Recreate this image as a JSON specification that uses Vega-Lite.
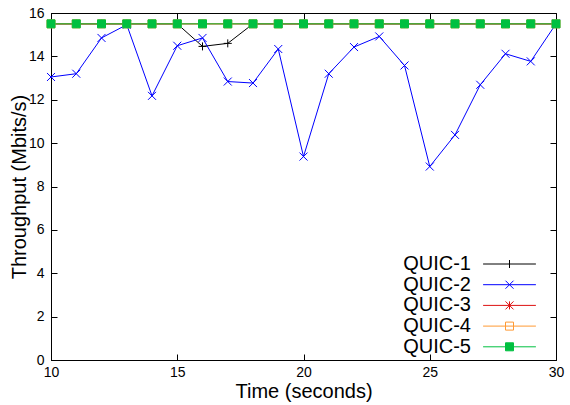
{
  "$schema": "https://vega.github.io/schema/vega-lite/v6.json",
  "width": 505,
  "height": 347,
  "autosize": {"type": "none"},
  "padding": {"left": 51, "top": 13, "right": 14, "bottom": 45},
  "background": "white",
  "config": {
    "font": "Liberation Sans",
    "view": {"stroke": "black", "strokeWidth": 1},
    "axis": {
      "grid": false,
      "domainColor": "black",
      "domainWidth": 1,
      "tickColor": "black",
      "tickWidth": 1,
      "labelColor": "black",
      "labelFont": "Liberation Sans",
      "labelFontSize": 14,
      "titleFont": "Liberation Sans",
      "titleFontSize": 20,
      "titleFontWeight": "normal",
      "titleColor": "black",
      "labelFlush": false,
      "labelOverlap": false
    }
  },
  "data": {
    "values": [
      {"t": 10, "series": "QUIC-1", "v": 15.5}, {"t": 11, "series": "QUIC-1", "v": 15.5}, {"t": 12, "series": "QUIC-1", "v": 15.5}, {"t": 13, "series": "QUIC-1", "v": 15.5}, {"t": 14, "series": "QUIC-1", "v": 15.5}, {"t": 15, "series": "QUIC-1", "v": 15.5}, {"t": 16, "series": "QUIC-1", "v": 14.46}, {"t": 17, "series": "QUIC-1", "v": 14.6}, {"t": 18, "series": "QUIC-1", "v": 15.5}, {"t": 19, "series": "QUIC-1", "v": 15.5}, {"t": 20, "series": "QUIC-1", "v": 15.5}, {"t": 21, "series": "QUIC-1", "v": 15.5}, {"t": 22, "series": "QUIC-1", "v": 15.5}, {"t": 23, "series": "QUIC-1", "v": 15.5}, {"t": 24, "series": "QUIC-1", "v": 15.5}, {"t": 25, "series": "QUIC-1", "v": 15.5}, {"t": 26, "series": "QUIC-1", "v": 15.5}, {"t": 27, "series": "QUIC-1", "v": 15.5}, {"t": 28, "series": "QUIC-1", "v": 15.5}, {"t": 29, "series": "QUIC-1", "v": 15.5}, {"t": 30, "series": "QUIC-1", "v": 15.5},
      {"t": 10, "series": "QUIC-2", "v": 13.05}, {"t": 11, "series": "QUIC-2", "v": 13.2}, {"t": 12, "series": "QUIC-2", "v": 14.85}, {"t": 13, "series": "QUIC-2", "v": 15.46}, {"t": 14, "series": "QUIC-2", "v": 12.18}, {"t": 15, "series": "QUIC-2", "v": 14.49}, {"t": 16, "series": "QUIC-2", "v": 14.85}, {"t": 17, "series": "QUIC-2", "v": 12.84}, {"t": 18, "series": "QUIC-2", "v": 12.77}, {"t": 19, "series": "QUIC-2", "v": 14.34}, {"t": 20, "series": "QUIC-2", "v": 9.38}, {"t": 21, "series": "QUIC-2", "v": 13.2}, {"t": 22, "series": "QUIC-2", "v": 14.43}, {"t": 23, "series": "QUIC-2", "v": 14.92}, {"t": 24, "series": "QUIC-2", "v": 13.58}, {"t": 25, "series": "QUIC-2", "v": 8.92}, {"t": 26, "series": "QUIC-2", "v": 10.38}, {"t": 27, "series": "QUIC-2", "v": 12.69}, {"t": 28, "series": "QUIC-2", "v": 14.12}, {"t": 29, "series": "QUIC-2", "v": 13.77}, {"t": 30, "series": "QUIC-2", "v": 15.5},
      {"t": 10, "series": "QUIC-3", "v": 15.5}, {"t": 11, "series": "QUIC-3", "v": 15.5}, {"t": 12, "series": "QUIC-3", "v": 15.5}, {"t": 13, "series": "QUIC-3", "v": 15.5}, {"t": 14, "series": "QUIC-3", "v": 15.5}, {"t": 15, "series": "QUIC-3", "v": 15.5}, {"t": 16, "series": "QUIC-3", "v": 15.5}, {"t": 17, "series": "QUIC-3", "v": 15.5}, {"t": 18, "series": "QUIC-3", "v": 15.5}, {"t": 19, "series": "QUIC-3", "v": 15.5}, {"t": 20, "series": "QUIC-3", "v": 15.5}, {"t": 21, "series": "QUIC-3", "v": 15.5}, {"t": 22, "series": "QUIC-3", "v": 15.5}, {"t": 23, "series": "QUIC-3", "v": 15.5}, {"t": 24, "series": "QUIC-3", "v": 15.5}, {"t": 25, "series": "QUIC-3", "v": 15.5}, {"t": 26, "series": "QUIC-3", "v": 15.5}, {"t": 27, "series": "QUIC-3", "v": 15.5}, {"t": 28, "series": "QUIC-3", "v": 15.5}, {"t": 29, "series": "QUIC-3", "v": 15.5}, {"t": 30, "series": "QUIC-3", "v": 15.5},
      {"t": 10, "series": "QUIC-4", "v": 15.5}, {"t": 11, "series": "QUIC-4", "v": 15.5}, {"t": 12, "series": "QUIC-4", "v": 15.5}, {"t": 13, "series": "QUIC-4", "v": 15.5}, {"t": 14, "series": "QUIC-4", "v": 15.5}, {"t": 15, "series": "QUIC-4", "v": 15.5}, {"t": 16, "series": "QUIC-4", "v": 15.5}, {"t": 17, "series": "QUIC-4", "v": 15.5}, {"t": 18, "series": "QUIC-4", "v": 15.5}, {"t": 19, "series": "QUIC-4", "v": 15.5}, {"t": 20, "series": "QUIC-4", "v": 15.5}, {"t": 21, "series": "QUIC-4", "v": 15.5}, {"t": 22, "series": "QUIC-4", "v": 15.5}, {"t": 23, "series": "QUIC-4", "v": 15.5}, {"t": 24, "series": "QUIC-4", "v": 15.5}, {"t": 25, "series": "QUIC-4", "v": 15.5}, {"t": 26, "series": "QUIC-4", "v": 15.5}, {"t": 27, "series": "QUIC-4", "v": 15.5}, {"t": 28, "series": "QUIC-4", "v": 15.5}, {"t": 29, "series": "QUIC-4", "v": 15.5}, {"t": 30, "series": "QUIC-4", "v": 15.5},
      {"t": 10, "series": "QUIC-5", "v": 15.5}, {"t": 11, "series": "QUIC-5", "v": 15.5}, {"t": 12, "series": "QUIC-5", "v": 15.5}, {"t": 13, "series": "QUIC-5", "v": 15.5}, {"t": 14, "series": "QUIC-5", "v": 15.5}, {"t": 15, "series": "QUIC-5", "v": 15.5}, {"t": 16, "series": "QUIC-5", "v": 15.5}, {"t": 17, "series": "QUIC-5", "v": 15.5}, {"t": 18, "series": "QUIC-5", "v": 15.5}, {"t": 19, "series": "QUIC-5", "v": 15.5}, {"t": 20, "series": "QUIC-5", "v": 15.5}, {"t": 21, "series": "QUIC-5", "v": 15.5}, {"t": 22, "series": "QUIC-5", "v": 15.5}, {"t": 23, "series": "QUIC-5", "v": 15.5}, {"t": 24, "series": "QUIC-5", "v": 15.5}, {"t": 25, "series": "QUIC-5", "v": 15.5}, {"t": 26, "series": "QUIC-5", "v": 15.5}, {"t": 27, "series": "QUIC-5", "v": 15.5}, {"t": 28, "series": "QUIC-5", "v": 15.5}, {"t": 29, "series": "QUIC-5", "v": 15.5}, {"t": 30, "series": "QUIC-5", "v": 15.5}
    ]
  },
  "layer": [
    {
      "mark": {"type": "line", "strokeWidth": 1},
      "encoding": {
        "x": {"field": "t", "type": "quantitative", "scale": {"domain": [10, 30], "nice": false, "zero": false},
              "axis": {"orient": "bottom", "values": [10, 15, 20, 25, 30], "tickSize": -6, "labelPadding": 11, "labelDx": 2, "title": "Time (seconds)", "titlePadding": 2}},
        "y": {"field": "v", "type": "quantitative", "scale": {"domain": [0, 16], "nice": false},
              "axis": {"orient": "left", "values": [0, 2, 4, 6, 8, 10, 12, 14, 16], "tickSize": -6, "labelPadding": 13, "title": "Throughput (Mbits/s)", "titlePadding": -1}},
        "color": {"field": "series", "type": "nominal", "legend": null,
                  "scale": {"domain": ["QUIC-1", "QUIC-2", "QUIC-3", "QUIC-4", "QUIC-5"], "range": ["#000000", "#0000ff", "#dd1111", "#ff9933", "#00c040"]}}
      }
    },
    {
      "mark": {"type": "point", "filled": false, "size": 64, "strokeWidth": 1, "opacity": 1},
      "encoding": {
        "x": {"field": "t", "type": "quantitative", "axis": {"orient": "top", "values": [15, 20, 25], "tickSize": -6, "labels": false, "title": null}},
        "y": {"field": "v", "type": "quantitative", "axis": {"orient": "right", "values": [2, 4, 6, 8, 10, 12, 14], "tickSize": -6, "labels": false, "title": null}},
        "color": {"field": "series", "type": "nominal", "legend": null,
                  "scale": {"domain": ["QUIC-1", "QUIC-2", "QUIC-3", "QUIC-4", "QUIC-5"], "range": ["#000000", "#0000ff", "#dd1111", "#ff9933", "#00c040"]}},
        "shape": {"field": "series", "type": "nominal", "legend": null,
                  "scale": {"domain": ["QUIC-1", "QUIC-2", "QUIC-3", "QUIC-4", "QUIC-5"], "range": ["M-1,0H1M0,-1V1", "M-1,-1L1,1M-1,1L1,-1", "M-1,0H1M0,-1V1M-0.7,-0.7L0.7,0.7M-0.7,0.7L0.7,-0.7", "square", "square"]}},
        "fill": {"field": "series", "type": "nominal", "legend": null,
                 "scale": {"domain": ["QUIC-1", "QUIC-2", "QUIC-3", "QUIC-4", "QUIC-5"], "range": ["transparent", "transparent", "transparent", "transparent", "#00c040"]}}
      }
    },
    {
      "transform": [{"filter": "false"}],
      "mark": {"type": "point", "filled": false, "size": 64, "strokeWidth": 1, "opacity": 1},
      "encoding": {
        "x": {"field": "t", "type": "quantitative", "axis": null},
        "y": {"field": "v", "type": "quantitative", "axis": null},
        "color": {"field": "series", "type": "nominal",
                  "scale": {"domain": ["QUIC-1", "QUIC-2", "QUIC-3", "QUIC-4", "QUIC-5"], "range": ["#000000", "#0000ff", "#dd1111", "#ff9933", "#00c040"]},
                  "legend": {
                    "title": null, "orient": "none", "legendX": 448.5, "legendY": 241, "padding": 0,
                    "labelAlign": "right", "labelOffset": -48.5, "labelFontSize": 20, "labelFont": "Liberation Sans", "labelColor": "black", "labelLimit": 200,
                    "rowPadding": 0.7, "symbolSize": 64, "symbolStrokeWidth": 1, "symbolOpacity": 1
                  }},
        "shape": {"field": "series", "type": "nominal",
                  "scale": {"domain": ["QUIC-1", "QUIC-2", "QUIC-3", "QUIC-4", "QUIC-5"], "range": ["M-6.6,0H6.6M0,-1V1", "M-6.6,0H6.6M-1,-1L1,1M-1,1L1,-1", "M-6.6,0H6.6M0,-1V1M-1,-1L1,1M-1,1L1,-1", "M-6.6,0H6.6M-1,-1H1V1H-1Z", "M-6.6,0H6.6M-1,-1H1V1H-1Z"]}},
        "fill": {"field": "series", "type": "nominal",
                 "scale": {"domain": ["QUIC-1", "QUIC-2", "QUIC-3", "QUIC-4", "QUIC-5"], "range": ["transparent", "transparent", "transparent", "transparent", "#00c040"]}}
      }
    }
  ],
  "resolve": {
    "axis": {"x": "independent", "y": "independent"},
    "scale": {"color": "independent", "shape": "independent", "fill": "independent"},
    "legend": {"color": "independent", "shape": "independent", "fill": "independent"}
  }
}
